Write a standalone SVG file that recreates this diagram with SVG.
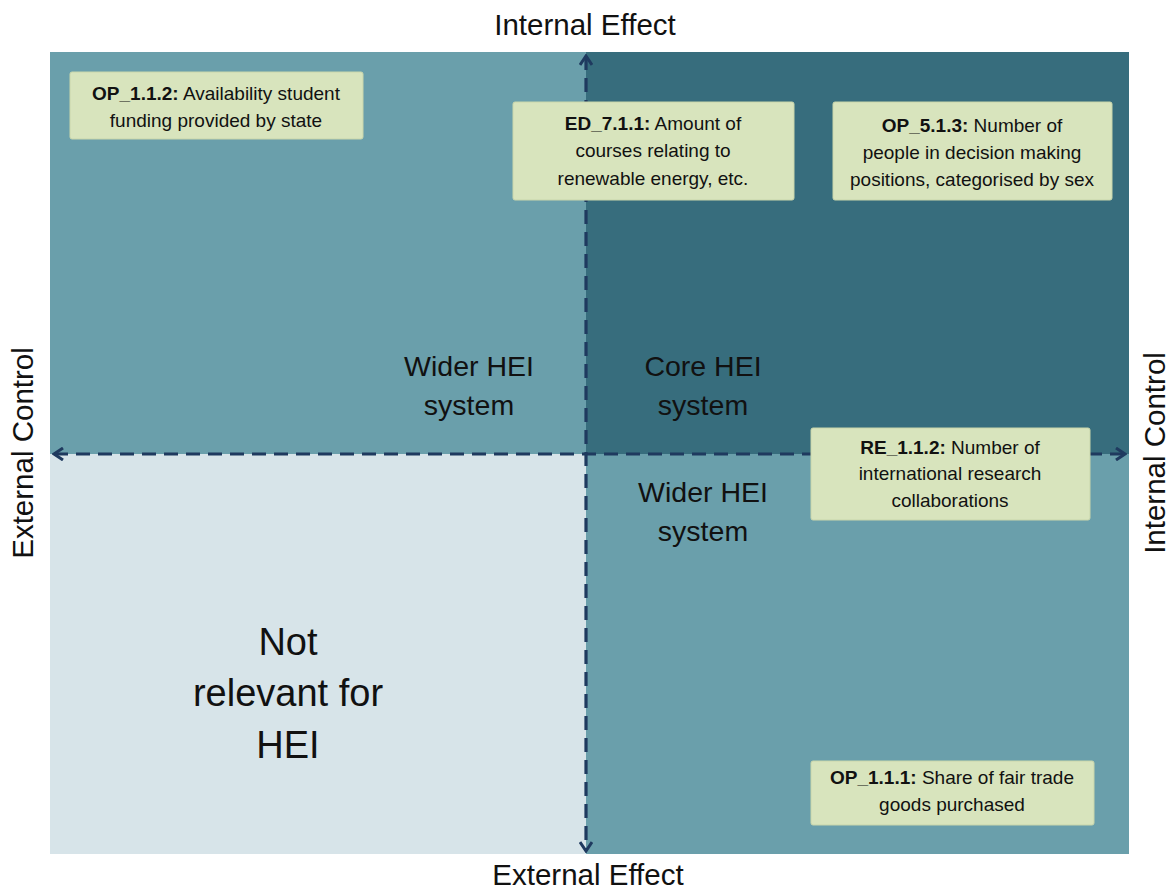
<svg xmlns="http://www.w3.org/2000/svg" width="1169" height="892" viewBox="0 0 1169 892">
<defs>
<style>
.ax{font-family:"Liberation Sans",Arial,sans-serif;font-size:29.5px;fill:#111;text-anchor:middle}
.ql{font-family:"Liberation Sans",Arial,sans-serif;font-size:28.5px;fill:#111;text-anchor:middle}
.nr{font-family:"Liberation Sans",Arial,sans-serif;font-size:38px;fill:#111;text-anchor:middle}
.bx{fill:#d8e4bd;stroke:#c9d6ab;stroke-width:1}
.bt{font-family:"Liberation Sans",Arial,sans-serif;font-size:19px;fill:#111;text-anchor:middle}
.b{font-weight:bold}
.con{stroke:#1f3a5f;stroke-width:3.2;stroke-dasharray:14 8;fill:none}
</style>
<marker id="ah" viewBox="0 0 14 14" refX="12" refY="7" markerWidth="14" markerHeight="14" markerUnits="userSpaceOnUse" orient="auto-start-reverse">
<path d="M3,1 L12,7 L3,13" fill="none" stroke="#1f3a5f" stroke-width="3"/>
</marker>
</defs>
<rect width="1169" height="892" fill="#ffffff"/>
<g id="quadrants">
<rect x="50" y="52" width="536" height="402" fill="#6a9fab"/>
<rect x="586" y="52" width="543" height="402" fill="#376d7d"/>
<rect x="50" y="454" width="536" height="400" fill="#d7e4e9"/>
<rect x="586" y="454" width="543" height="400" fill="#6a9fab"/>
</g>
<g id="axis-labels">
<text class="ax" x="585" y="35">Internal Effect</text>
<text class="ax" x="588" y="885">External Effect</text>
<text class="ax" transform="translate(33,453) rotate(-90)">External Control</text>
<text class="ax" transform="translate(1165,453) rotate(-90)">Internal Control</text>
</g>
<g id="connectors">
<line class="con" x1="54" y1="454" x2="1125" y2="454" marker-start="url(#ah)" marker-end="url(#ah)"/>
<line class="con" x1="586" y1="56" x2="586" y2="851" marker-start="url(#ah)" marker-end="url(#ah)"/>
</g>
<g id="quadrant-labels">
<text class="ql" x="469" y="376">Wider HEI</text>
<text class="ql" x="469" y="415">system</text>
<text class="ql" x="703" y="376">Core HEI</text>
<text class="ql" x="703" y="415">system</text>
<text class="ql" x="703" y="502">Wider HEI</text>
<text class="ql" x="703" y="541">system</text>
<text class="nr" x="288" y="655">Not</text>
<text class="nr" x="288" y="706">relevant for</text>
<text class="nr" x="288" y="758">HEI</text>
</g>
<g id="OP_1.1.2">
<rect class="bx" x="70" y="72" width="293" height="67" rx="2"/>
<text class="bt" x="216" y="100"><tspan class="b">OP_1.1.2:</tspan> Availability student</text>
<text class="bt" x="216" y="127">funding provided by state</text>
</g>
<g id="ED_7.1.1">
<rect class="bx" x="513" y="102" width="281" height="98" rx="2"/>
<text class="bt" x="653" y="130"><tspan class="b">ED_7.1.1:</tspan> Amount of</text>
<text class="bt" x="653" y="157">courses relating to</text>
<text class="bt" x="653" y="185">renewable energy, etc.</text>
</g>
<g id="OP_5.1.3">
<rect class="bx" x="833" y="102" width="279" height="98" rx="2"/>
<text class="bt" x="972" y="132"><tspan class="b">OP_5.1.3:</tspan>  Number of</text>
<text class="bt" x="972" y="159">people in decision making</text>
<text class="bt" x="972" y="186">positions, categorised by sex</text>
</g>
<g id="RE_1.1.2">
<rect class="bx" x="811" y="428" width="279" height="92" rx="2"/>
<text class="bt" x="950" y="454"><tspan class="b">RE_1.1.2:</tspan> Number of</text>
<text class="bt" x="950" y="480">international research</text>
<text class="bt" x="950" y="507">collaborations</text>
</g>
<g id="OP_1.1.1">
<rect class="bx" x="811" y="761" width="283" height="64" rx="2"/>
<text class="bt" x="952" y="784"><tspan class="b">OP_1.1.1:</tspan> Share of fair trade</text>
<text class="bt" x="952" y="811">goods purchased</text>
</g>
</svg>
